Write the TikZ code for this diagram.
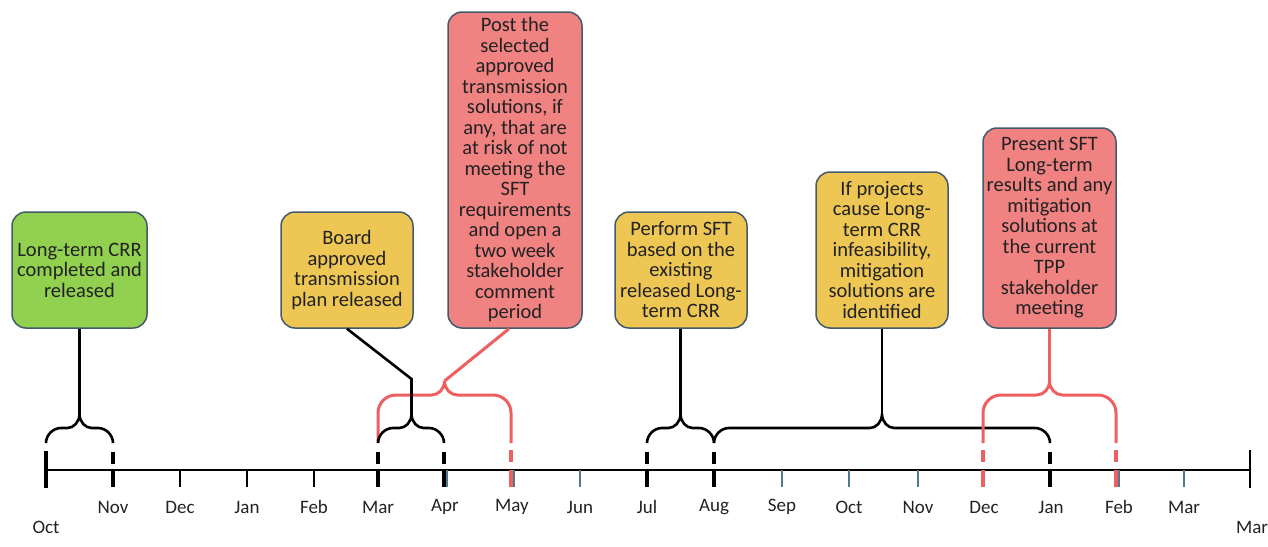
\documentclass[tikz,border=0pt]{standalone}
\usepackage{fontspec}
\setmainfont{Carlito}
\usetikzlibrary{calc}
\definecolor{boxedge}{HTML}{435A6B}
\definecolor{gfill}{HTML}{92D050}
\definecolor{yfill}{HTML}{EDC653}
\definecolor{rfill}{HTML}{F08282}
\definecolor{redline}{HTML}{EF5F5F}
\definecolor{tickblue}{HTML}{50788F}
\definecolor{txt}{HTML}{222222}
\newcommand\myblackbrace[3]{%
  (#1,443) .. controls (#1,435) and (#1+7,428) .. (#1+15,428) -- (#2-12,428)
  .. controls (#2-6,428) and (#2,422) .. (#2,414)
  .. controls (#2,422) and (#2+6,428) .. (#2+12,428) -- (#3-15,428)
  .. controls (#3-7,428) and (#3,435) .. (#3,443)}
\newcommand\myredbrace[3]{%
  (#1,443) -- (#1,413) .. controls (#1,403) and (#1+8,395) .. (#1+18,395) -- (#2-13,395)
  .. controls (#2-6,395) and (#2,389) .. (#2,381)
  .. controls (#2,389) and (#2+6,395) .. (#2+13,395) -- (#3-18,395)
  .. controls (#3-8,395) and (#3,403) .. (#3,413) -- (#3,443)}
\begin{document}
\begin{tikzpicture}[x=1pt,y=-1pt,
  box/.style={draw=boxedge, line width=1.5pt, rounded corners=14pt, align=center,
    inner sep=0pt, font=\fontsize{20.5}{20.5}\selectfont, text=txt},
  bk/.style={black, line width=2.6pt},
  rd/.style={redline, line width=3pt},
  hb/.style={black, line width=3.6pt},
  hr/.style={redline, line width=3.6pt},
  tk/.style={line width=2pt},
  mlabel/.style={font=\fontsize{19}{20}\selectfont, text=txt, inner sep=0pt}]
\useasboundingbox (0,0) rectangle (1268,546);

% boxes
\node[box, fill=gfill, minimum width=135pt, minimum height=116pt] (b1) at (79.5,270)
  {Long-term CRR\\completed and\\released};
\node[box, fill=yfill, minimum width=132pt, minimum height=116pt] (b2) at (347,270)
  {Board\\approved\\transmission\\plan released};
\node[box, fill=rfill, minimum width=134pt, minimum height=316pt] (b3) at (515,170)
  {Post the\\selected\\approved\\transmission\\solutions, if\\any, that are\\at risk of not\\meeting the\\SFT\\requirements\\and open a\\two week\\stakeholder\\comment\\period};
\node[box, fill=yfill, minimum width=132pt, minimum height=116pt] (b4) at (681,270)
  {Perform SFT\\based on the\\existing\\released Long-\\term CRR};
\node[box, fill=yfill, minimum width=132pt, minimum height=156pt] (b5) at (882,250)
  {If projects\\cause Long-\\term CRR\\infeasibility,\\mitigation\\solutions are\\identified};
\node[box, fill=rfill, minimum width=133pt, minimum height=200pt] (b6) at (1049.5,228)
  {Present SFT\\Long-term\\results and any\\mitigation\\solutions at\\the current\\TPP\\stakeholder\\meeting};

% cusp coordinates
\coordinate (c1) at (79.5,414);
\coordinate (c2) at (411.5,414);
\coordinate (k2) at (411.5,379);
\coordinate (c3) at (444.5,381);
\coordinate (c4) at (680.5,414);
\coordinate (c5) at (882,414);
\coordinate (c6) at (1049.5,381);

% axis
\draw[black, line width=2pt] (46,470) -- (1250,470);
\foreach \x in {180,247,314} \draw[tk, black] (\x,470) -- (\x,487);
\foreach \x in {447,514,580,647,714,782,849,918,984,1051,1119,1184}
  \draw[tk, tickblue] (\x,470) -- (\x,487);
\draw[black, line width=3.4pt] (46,451) -- (46,488);
\draw[black, line width=2.4pt] (1250,450) -- (1250,488);

% highlighted ticks
\foreach \x in {113,378,444,647,714,1050} {
  \draw[hb] (\x,452) -- (\x,464);
  \draw[hb] (\x,470) -- (\x,487);
}
\foreach \x in {511,983,1116} {
  \draw[hr] (\x,450) -- (\x,462);
  \draw[hr] (\x,470) -- (\x,487);
}

% red brace Mar-May
\draw[rd] \myredbrace{378}{444.5}{511};
\draw[rd] ($(b3.south)+(-6,0)$) -- (c3);

% black braces
\draw[bk] \myblackbrace{46}{79.5}{113};
\draw[bk] (b1.south) -- (c1);

\draw[bk] \myblackbrace{378}{411.5}{444};
\draw[bk] (b2.south) -- (k2) -- (c2);

\draw[bk] \myblackbrace{647}{680.5}{714};
\draw[bk] (b4.south -| c4) -- (c4);

\draw[bk] \myblackbrace{714}{882}{1050};
\draw[bk] (b5.south) -- (c5);

% red brace Dec-Feb
\draw[rd] \myredbrace{983}{1049.5}{1116};
\draw[rd] (b6.south) -- (c6);

% labels
\node[mlabel] (lOct) at (46,527) {Oct};
\node[mlabel] (lNov) at (113,507) {Nov};
\node[mlabel] (lDec) at (180,507) {Dec};
\node[mlabel] (lJan) at (247,507) {Jan};
\node[mlabel] (lFeb) at (314,507) {Feb};
\node[mlabel] (lMar) at (378,507) {Mar};
\node[mlabel] (lApr) at (445,507) {Apr};
\node[mlabel] (lMay) at (512,507) {May};
\node[mlabel] (lJun) at (580,507) {Jun};
\node[mlabel] (lJul) at (647,507) {Jul};
\node[mlabel] (lAug) at (714,507) {Aug};
\node[mlabel] (lSep) at (782,507) {Sep};
\node[mlabel] (lOct2) at (849,507) {Oct};
\node[mlabel] (lNov2) at (918,507) {Nov};
\node[mlabel] (lDec2) at (984,507) {Dec};
\node[mlabel] (lJan2) at (1051,507) {Jan};
\node[mlabel] (lFeb2) at (1119,507) {Feb};
\node[mlabel] (lMar2) at (1184,507) {Mar};
\node[mlabel] (lMar3) at (1252,527) {Mar};
\end{tikzpicture}
\end{document}
